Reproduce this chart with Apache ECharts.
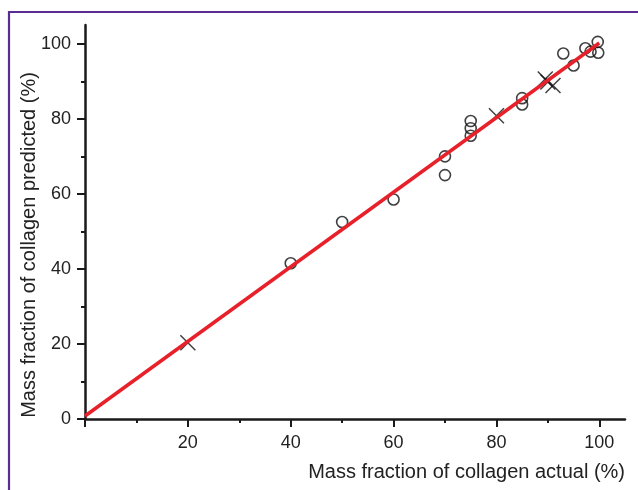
<!DOCTYPE html>
<html><head><meta charset="utf-8">
<script src="https://cdn.jsdelivr.net/npm/echarts@6/dist/echarts.min.js"></script>
<style>html,body{margin:0;padding:0;background:#fff}#c{width:638px;height:490px}</style>
</head><body><div id="c"></div>
<script>
var circleX = [40, 50, 60, 70, 70, 75, 75, 75, 85, 85, 93, 95, 97.3, 98.3, 99.7, 99.8];
var circleY = [41.5, 52.5, 58.5, 70, 65, 79.4, 77.5, 75.5, 85.5, 83.8, 97.4, 94.2, 98.8, 97.9, 100.5, 97.6];
var crossX = [20, 80, 89.5, 90, 91];
var crossY = [20.3, 80.8, 90.6, 89.8, 88.9];
var fitX = [0, 100];
var fitY = [0.8, 100.2];
var majorTicks = [0, 20, 40, 60, 80, 100];
var minorTicks = [10, 30, 50, 70, 90];
var xLabels = [20, 40, 60, 80, 100];
var yLabels = [0, 20, 40, 60, 80, 100];
var xName = 'Mass fraction of collagen actual (%)';
var yName = 'Mass fraction of collagen predicted (%)';

function pairs(xs, ys){ return xs.map(function(v,i){ return [v, ys[i]]; }); }
var axisColor = '#1a1a1a';
var font = 'Liberation Sans, Arial, sans-serif';
function mainAxis(isX){
  return {
    type:'value', min:0, max:105, position: isX?'bottom':'left',
    axisLine:{show:true, onZero:false, lineStyle:{color:axisColor, width:2.5}},
    axisTick:{show:true, customValues: majorTicks, length:8, lineStyle:{color:axisColor, width:2}},
    axisLabel:{show:true, customValues: isX?xLabels:yLabels, margin: isX?15:14, color:'#222', fontSize:18, fontFamily:font},
    splitLine:{show:false},
    name: isX?xName:yName,
    nameLocation: isX?'end':'middle',
    nameGap: isX?0:46,
    nameMoveOverlap: false,
    nameTextStyle: isX?{align:'right', verticalAlign:'top', padding:[43,0,0,0], fontSize:20, color:'#222', fontFamily:font}
                      :{fontSize:20, color:'#222', fontFamily:font, padding:[0,46,0,0]}
  };
}
function minorAxis(isX){
  return {
    type:'value', min:0, max:105, position: isX?'bottom':'left',
    axisLine:{show:false, onZero:false},
    axisTick:{show:true, customValues: minorTicks, length:4, lineStyle:{color:axisColor, width:2}},
    axisLabel:{show:false}, splitLine:{show:false}
  };
}
var chart = echarts.init(document.getElementById('c'), null, {renderer:'canvas'});
chart.setOption({
  animation:false,
  backgroundColor:'#fff',
  grid:{left:85, right:13, top:25, bottom:71, containLabel:false},
  xAxis:[mainAxis(true), minorAxis(true)],
  yAxis:[mainAxis(false), minorAxis(false)],
  graphic:[{type:'rect', shape:{x:9, y:12, width:700, height:600}, style:{fill:'none', stroke:'#5b2d90', lineWidth:2.2}, silent:true, z:-1}],
  series:[
    {type:'scatter', data:pairs(circleX, circleY), symbol:'circle', symbolSize:11,
     itemStyle:{color:'rgba(0,0,0,0)', borderColor:'#111', borderWidth:1.6}, z:2},
    {type:'scatter', data:pairs(crossX, crossY), symbol:'path://M0,0L10,10M10,0L0,10', symbolSize:15,
     itemStyle:{color:'rgba(0,0,0,0)', borderColor:'#111', borderWidth:1.5}, z:2},
    {type:'line', data:pairs(fitX, fitY), showSymbol:false, symbol:'none',
     lineStyle:{color:'#e8202a', width:3.5}, z:5}
  ]
});
</script></body></html>
